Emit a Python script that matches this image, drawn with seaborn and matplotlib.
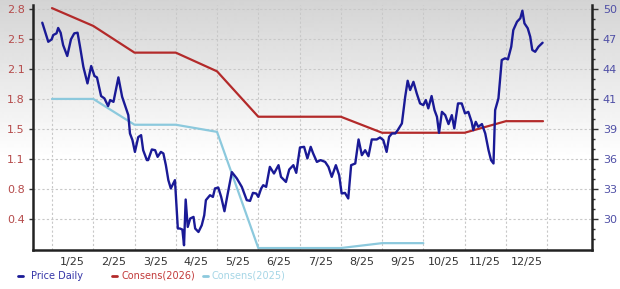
import numpy as np
import pandas as pd
import matplotlib
matplotlib.use("Agg")
import matplotlib.pyplot as plt
import seaborn as sns
from matplotlib.lines import Line2D

# ---------------- data ----------------
month_labels = ["1/25", "2/25", "3/25", "4/25", "5/25", "6/25",
                "7/25", "8/25", "9/25", "10/25", "11/25", "12/25"]
left_tick_labels = ["2.8", "2.5", "2.1", "1.8", "1.5", "1.1", "0.8", "0.4"]
right_tick_labels = ["50", "47", "44", "41", "39", "36", "33", "30"]

# x = months since 1 Jan 2025
price_x = [-0.235, -0.09, -0.007, 0.03, 0.11, 0.15, 0.21, 0.27, 0.37, 0.46,
           0.54, 0.62, 0.68, 0.76, 0.86, 0.95, 1.03, 1.09, 1.19, 1.27,
           1.36, 1.41, 1.49, 1.61, 1.70, 1.81, 1.85, 1.89, 1.95, 2.01,
           2.09, 2.16, 2.21, 2.30, 2.33, 2.42, 2.50, 2.56, 2.64, 2.70,
           2.76, 2.82, 2.88, 2.98, 3.05, 3.10, 3.16, 3.20, 3.24, 3.29,
           3.35, 3.43, 3.47, 3.55, 3.63, 3.69, 3.73, 3.83, 3.90, 3.95,
           4.03, 4.10, 4.18, 4.26, 4.36, 4.48, 4.60, 4.72, 4.80, 4.87,
           4.95, 5.00, 5.07, 5.12, 5.19, 5.28, 5.38, 5.49, 5.55, 5.67,
           5.75, 5.85, 5.92, 6.01, 6.11, 6.19, 6.27, 6.33, 6.42, 6.51,
           6.62, 6.70, 6.78, 6.88, 6.96, 7.02, 7.10, 7.18, 7.25, 7.35,
           7.43, 7.51, 7.59, 7.67, 7.75, 7.87, 7.95, 8.03, 8.11, 8.17,
           8.24, 8.32, 8.38, 8.48, 8.56, 8.62, 8.68, 8.76, 8.84, 8.92,
           9.00, 9.06, 9.12, 9.20, 9.27, 9.33, 9.38, 9.45, 9.53, 9.61,
           9.69, 9.75, 9.84, 9.93, 10.01, 10.09, 10.17, 10.21, 10.27, 10.33,
           10.42, 10.50, 10.58, 10.64, 10.70, 10.74, 10.82, 10.90, 10.98, 11.05,
           11.13, 11.18, 11.27, 11.35, 11.40, 11.45, 11.53, 11.59, 11.64, 11.71,
           11.79, 11.89]
price_v = [48.70, 46.89, 47.12, 47.53, 47.69, 48.20, 47.75, 46.58, 45.54, 47.12,
           47.69, 47.75, 46.42, 44.52, 42.94, 44.59, 43.64, 43.51, 41.74, 41.52,
           40.79, 41.36, 41.19, 43.51, 41.67, 40.41, 39.93, 38.19, 37.56, 36.44,
           37.84, 38.03, 36.60, 35.66, 35.66, 36.67, 36.60, 35.97, 36.44, 36.29,
           35.18, 33.76, 32.97, 33.76, 29.17, 29.17, 29.07, 27.58, 31.92, 29.32,
           30.12, 30.27, 29.17, 28.84, 29.48, 30.43, 31.86, 32.33, 32.17, 32.97,
           33.06, 32.17, 30.81, 32.49, 34.52, 33.92, 33.12, 31.86, 31.79, 32.55,
           32.49, 32.17, 32.97, 33.28, 33.12, 35.02, 34.39, 35.18, 34.07, 33.59,
           34.77, 35.18, 34.45, 36.86, 36.92, 35.82, 36.92, 36.29, 35.49, 35.66,
           35.49, 35.02, 34.07, 35.18, 34.23, 32.49, 32.55, 32.02, 35.18, 35.34,
           37.62, 36.13, 36.60, 36.03, 37.62, 37.62, 37.81, 37.56, 36.44, 37.87,
           38.19, 38.19, 38.51, 39.14, 41.67, 43.19, 42.31, 43.09, 41.99, 41.04,
           40.88, 41.36, 40.57, 41.74, 40.41, 39.77, 38.25, 40.24, 39.93, 39.08,
           39.93, 38.67, 41.04, 41.04, 40.09, 40.24, 39.29, 38.51, 39.29, 38.82,
           39.08, 38.19, 36.60, 35.66, 35.34, 40.41, 41.52, 45.16, 45.32, 45.22,
           46.42, 48.00, 48.79, 49.12, 49.84, 48.64, 48.17, 47.37, 46.11, 45.94,
           46.42, 46.80]

cons26_x = [0, 1, 2, 3, 4, 5, 6, 7, 8, 9, 10, 11, 11.9]
cons26_v = [2.81, 2.61, 2.31, 2.31, 2.10, 1.59, 1.59, 1.59, 1.41, 1.41, 1.41, 1.54, 1.54]

cons25_x = [0, 1, 2, 3, 4, 5, 6, 7, 8, 9]
cons25_v = [1.79, 1.79, 1.50, 1.50, 1.42, 0.115, 0.115, 0.115, 0.17, 0.17]

# ---------------- style ----------------
sns.set_style("white")
plt.rcParams['font.family'] = ['DejaVu Sans']

NAVY = "#1a1a96"
RED = "#b32a2a"
LBLUE = "#8cc9dd"

fig = plt.figure(figsize=(6.2, 2.89), dpi=100)

# gradient background
bg = fig.add_axes([0, 0, 1, 1], zorder=-10)
g = np.linspace(0, 1, 289)
vals = np.clip(0.83 + 0.17 * g / 0.55, 0, 1)
bg.imshow(vals[:, None], cmap="gray", vmin=0, vmax=1, aspect="auto",
          extent=[0, 1, 0, 1], interpolation="bilinear")
bg.set_axis_off()

ax = fig.add_axes([33 / 620, 1 - 250 / 289, (591.7 - 33) / 620, (250 - 5) / 289])
ax.patch.set_alpha(0)
ax2 = ax.twinx()

sns.lineplot(x=cons26_x, y=cons26_v, ax=ax, color=RED, lw=1.6, sort=False,
             estimator=None)
sns.lineplot(x=cons25_x, y=cons25_v, ax=ax, color=LBLUE, lw=1.6, sort=False,
             estimator=None)
sns.lineplot(x=price_x, y=price_v, ax=ax2, color=NAVY, lw=1.7, sort=False,
             estimator=None)
for l in ax.lines + ax2.lines:
    l.set_solid_joinstyle("round")

# axes limits & ticks
ax.set_xlim(-0.46, 13.08)
ax.set_ylim(0.093, 2.845)
ax2.set_ylim(27.13, 50.38)

lstep = 0.337
rstep = 2.85
ax.set_yticks([2.8 - i * lstep for i in range(len(left_tick_labels))])
ax.set_yticklabels(left_tick_labels)
ax2.set_yticks([50 - i * rstep for i in range(len(right_tick_labels))])
ax2.set_yticklabels(right_tick_labels)
ax2.set_yticks([50 - i * rstep / 3 for i in range(0, 25) if i % 3 != 0 and 50 - i * rstep / 3 > 27.2],
               minor=True)

ax.set_xticks([m + 0.5 for m in range(12)])
ax.set_xticklabels(month_labels)
ax.set_xticks(list(range(13)), minor=True)

ax.grid(False)
ax2.grid(False)
ax.grid(which="major", axis="y", color="#c8c8c8", ls=(0, (2, 2)), lw=0.8)
ax.grid(which="minor", axis="x", color="#c8c8c8", ls=(0, (2, 2)), lw=0.8)

ax.tick_params(axis="x", which="both", length=0, labelsize=8, colors="#333333", pad=5)
ax.tick_params(axis="y", which="major", length=3, width=1, direction="out",
               labelsize=8, labelcolor="#b54a4a", color="#333333", pad=3)
ax2.tick_params(axis="y", which="major", length=4, width=1, direction="out",
                labelsize=8, labelcolor="#4f4fa6", color="#333333", pad=4)
ax2.tick_params(axis="y", which="minor", length=2.5, width=1, direction="out",
                color="#333333")

for a in (ax, ax2):
    for s in a.spines.values():
        s.set_visible(False)
ax.spines["left"].set_visible(True)
ax.spines["bottom"].set_visible(True)
ax2.spines["right"].set_visible(True)
for s in (ax.spines["left"], ax.spines["bottom"], ax2.spines["right"]):
    s.set_color("#222222")
    s.set_linewidth(1.8)

ax.set_xlabel("")
ax.set_ylabel("")
ax2.set_ylabel("")

# legend
ly = 1 - 276 / 289
entries = [("Price Daily", NAVY, "#3535a8", 18, 31),
           ("Consens(2026)", RED, "#c23a3a", 112, 122),
           ("Consens(2025)", LBLUE, "#a6d6e6", 203, 211)]
for label, lc, tc, mx, tx in entries:
    fig.add_artist(Line2D([mx / 620, (mx + 5) / 620], [ly, ly], color=lc, lw=2,
                          transform=fig.transFigure))
    fig.text(tx / 620, ly, label, color=tc, fontsize=7, va="center", ha="left")

fig.savefig("out.png", dpi=100)
